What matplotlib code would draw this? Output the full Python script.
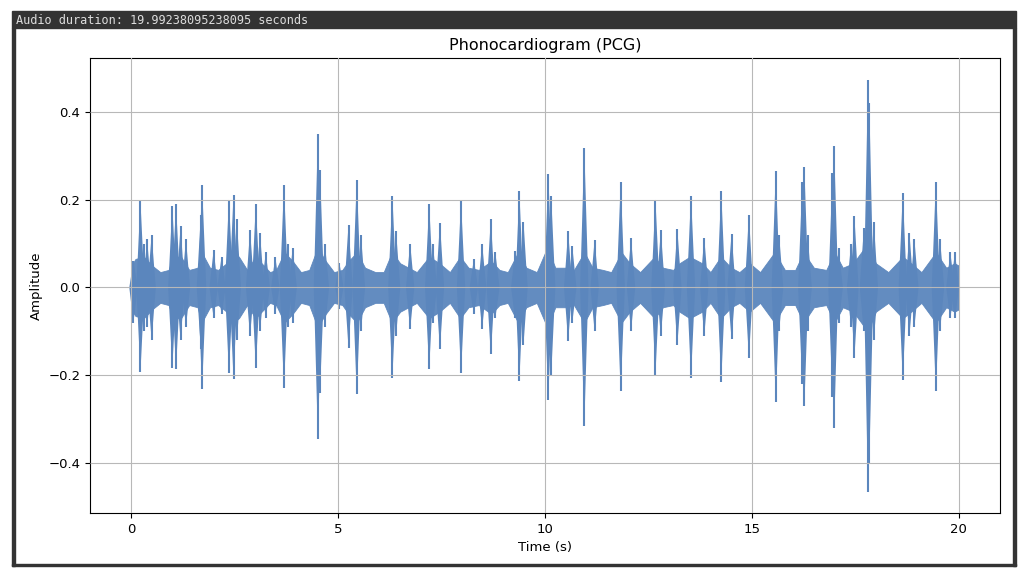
import matplotlib.pyplot as plt
from matplotlib.patches import Rectangle
import numpy as np

duration = 19.99238095238095

# envelope of the dense background (time s, half-amplitude)
env_t = [0.0, 0.1, 0.3, 0.5, 0.7, 0.9, 1.0, 1.2, 1.4, 1.6, 1.7, 1.9, 2.1, 2.3, 2.45,
         2.6, 2.8, 3.0, 3.15, 3.35, 3.5, 3.7, 3.9, 4.1, 4.3, 4.5, 4.7, 4.9, 5.1, 5.25,
         5.45, 5.65, 5.9, 6.1, 6.3, 6.5, 6.7, 6.9, 7.2, 7.45, 7.7, 7.95, 8.15, 8.4, 8.7,
         8.9, 9.1, 9.35, 9.55, 9.8, 10.05, 10.25, 10.5, 10.7, 10.95, 11.15, 11.4, 11.6,
         11.85, 12.05, 12.3, 12.65, 12.85, 13.1, 13.25, 13.5, 13.8, 14.0, 14.25, 14.5,
         14.7, 14.95, 15.2, 15.55, 15.8, 16.05, 16.25, 16.5, 16.8, 17.0, 17.2, 17.45,
         17.8, 18.0, 18.3, 18.65, 18.85, 19.1, 19.45, 19.7, 19.9, 20.0]
env_a = [0.05, 0.065, 0.07, 0.05, 0.035, 0.04, 0.07, 0.07, 0.04, 0.045, 0.08, 0.045,
         0.04, 0.055, 0.08, 0.07, 0.04, 0.07, 0.055, 0.035, 0.04, 0.08, 0.06, 0.035,
         0.04, 0.09, 0.06, 0.035, 0.04, 0.06, 0.08, 0.045, 0.035, 0.035, 0.08, 0.055,
         0.045, 0.035, 0.07, 0.055, 0.035, 0.07, 0.045, 0.04, 0.06, 0.04, 0.035, 0.08,
         0.045, 0.035, 0.09, 0.045, 0.045, 0.04, 0.08, 0.045, 0.04, 0.035, 0.08, 0.055,
         0.035, 0.07, 0.045, 0.04, 0.055, 0.07, 0.055, 0.035, 0.07, 0.045, 0.035, 0.055,
         0.035, 0.08, 0.04, 0.04, 0.08, 0.045, 0.04, 0.08, 0.045, 0.055, 0.10, 0.055,
         0.035, 0.07, 0.055, 0.035, 0.08, 0.045, 0.055, 0.05]

# visible spikes: time, top, bottom
spike_t = [0.05, 0.22, 0.30, 0.38, 0.49, 0.99, 1.08, 1.19, 1.32, 1.68, 1.71, 1.99, 2.18,
           2.36, 2.47, 2.55, 2.87, 3.01, 3.11, 3.25, 3.48, 3.69, 3.78, 3.90, 4.51, 4.56,
           4.68, 5.03, 5.25, 5.45, 5.55, 6.31, 6.40, 6.74, 7.20, 7.29, 7.46, 7.97, 8.28,
           8.48, 8.69, 8.80, 9.28, 9.38, 9.48, 10.08, 10.15, 10.56, 10.66, 10.95, 11.20,
           11.83, 12.08, 12.67, 12.80, 13.20, 13.53, 13.85, 14.26, 14.51, 14.93, 15.58,
           15.66, 16.22, 16.27, 16.35, 16.95, 16.99, 17.10, 17.40, 17.48, 17.71, 17.81,
           17.84, 17.95, 18.65, 18.81, 18.93, 19.45, 19.55, 19.80, 19.91]
spike_top = [0.06, 0.196, 0.10, 0.11, 0.12, 0.186, 0.19, 0.14, 0.11, 0.166, 0.234, 0.086,
             0.07, 0.20, 0.211, 0.155, 0.13, 0.19, 0.124, 0.08, 0.07, 0.232, 0.10, 0.09,
             0.348, 0.268, 0.10, 0.056, 0.143, 0.245, 0.12, 0.209, 0.128, 0.10, 0.19, 0.10,
             0.147, 0.196, 0.065, 0.10, 0.155, 0.08, 0.083, 0.219, 0.15, 0.259, 0.208,
             0.128, 0.094, 0.317, 0.109, 0.239, 0.113, 0.20, 0.13, 0.132, 0.209, 0.113,
             0.219, 0.122, 0.166, 0.264, 0.12, 0.24, 0.274, 0.12, 0.26, 0.321, 0.09, 0.10,
             0.162, 0.136, 0.473, 0.42, 0.15, 0.214, 0.124, 0.11, 0.24, 0.11, 0.08, 0.08]
spike_bot = [-0.08, -0.192, -0.10, -0.09, -0.12, -0.183, -0.186, -0.12, -0.09, -0.14,
             -0.23, -0.07, -0.06, -0.194, -0.208, -0.12, -0.11, -0.183, -0.10, -0.07,
             -0.06, -0.228, -0.09, -0.08, -0.344, -0.24, -0.09, -0.05, -0.137, -0.243,
             -0.10, -0.205, -0.11, -0.095, -0.186, -0.08, -0.14, -0.194, -0.06, -0.095,
             -0.152, -0.07, -0.07, -0.213, -0.13, -0.255, -0.20, -0.122, -0.08, -0.314,
             -0.10, -0.236, -0.10, -0.198, -0.11, -0.13, -0.205, -0.11, -0.215, -0.118,
             -0.16, -0.26, -0.10, -0.22, -0.27, -0.10, -0.25, -0.319, -0.08, -0.09, -0.16,
             -0.10, -0.466, -0.40, -0.12, -0.21, -0.11, -0.09, -0.236, -0.10, -0.07, -0.07]

wave_color = '#5b86bd'

fig = plt.figure(figsize=(10.19, 5.68), dpi=100)

# notebook output frame
W, H = 1019, 568
frame = '#333333'
fig.patches.append(Rectangle((12 / W, 1 - 28 / H), 1004 / W, 17 / H,
                             transform=fig.transFigure, color=frame, zorder=0))
fig.patches.append(Rectangle((12 / W, 2 / H), 3 / W, 1 - 30 / H,
                             transform=fig.transFigure, color=frame, zorder=0))
fig.patches.append(Rectangle((1013 / W, 2 / H), 3 / W, 1 - 30 / H,
                             transform=fig.transFigure, color=frame, zorder=0))
fig.patches.append(Rectangle((12 / W, 2 / H), 1004 / W, 2 / H,
                             transform=fig.transFigure, color=frame, zorder=0))
fig.text(16 / W, 1 - 20 / H, 'Audio duration: %s seconds' % duration,
         family='DejaVu Sans Mono', fontsize=8.6, color='#dddddd', va='center')

ax = fig.add_axes([90 / W, 55 / H, 910 / W, 455 / H])
ax.fill_between(env_t, [-a for a in env_a], env_a, color=wave_color, lw=0.6, alpha=0.95)

# each spike drawn as a thin burst: narrow diamond plus a hairline tip
hw = 0.1
for t, top, bot in zip(spike_t, spike_top, spike_bot):
    ax.fill([t - hw, t, t + hw, t], [0, top, 0, bot], color=wave_color, lw=0)
ax.vlines(spike_t, spike_bot, spike_top, color=wave_color, lw=1.5)

ax.set_axisbelow(False)
ax.grid(True, color='#b8b8b8', lw=0.8)
ax.set_xticks([0, 5, 10, 15, 20])
ax.set_yticks([-0.4, -0.2, 0.0, 0.2, 0.4])
ax.set_xlim(-1, 21)
ax.set_ylim(-0.513, 0.522)
ax.tick_params(labelsize=9.5)
ax.set_title('Phonocardiogram (PCG)', fontsize=11.5)
ax.set_xlabel('Time (s)', fontsize=9.5)
ax.set_ylabel('Amplitude', fontsize=9.5)

fig.savefig('out.png', dpi=100)
